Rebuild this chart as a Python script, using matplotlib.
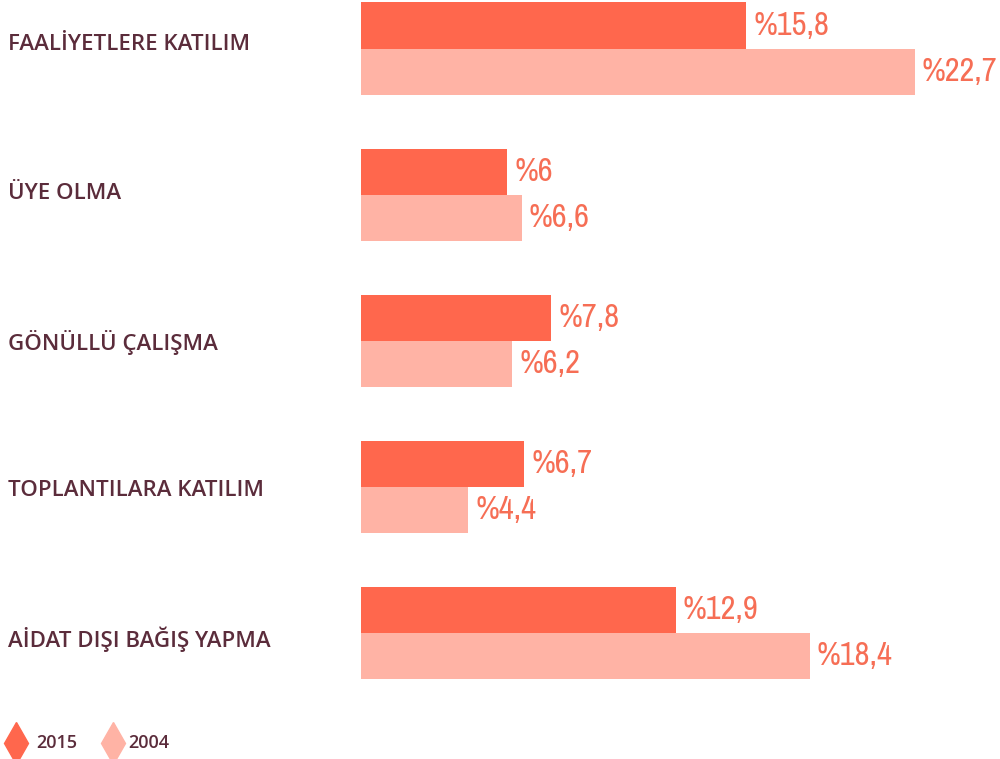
import numpy as np
import matplotlib.pyplot as plt
from matplotlib import font_manager

categories = ["FAALİYETLERE KATILIM", "ÜYE OLMA", "GÖNÜLLÜ ÇALIŞMA",
              "TOPLANTILARA KATILIM", "AİDAT DIŞI BAĞIŞ YAPMA"]
values_2015 = [15.8, 6.0, 7.8, 6.7, 12.9]
values_2004 = [22.7, 6.6, 6.2, 4.4, 18.4]
labels_2015 = ["%15,8", "%6", "%7,8", "%6,7", "%12,9"]
labels_2004 = ["%22,7", "%6,6", "%6,2", "%4,4", "%18,4"]
series = ["2015", "2004"]

c2015 = "#ff674d"
c2004 = "#ffb3a5"
text_red = "#f66e55"
dark = "#5b2c3b"

fm = font_manager.fontManager
installed = {f.name for f in fm.ttflist}
cond = [f for f in fm.ttflist if "ondensed" in f.name or "Narrow" in f.name
        or f.stretch in ("condensed", "semi-condensed", "extra-condensed", 75, 87)]
narrow = sorted({f.name for f in cond}) + ["DejaVu Sans"]
label_font = [f for f in ["Open Sans", "Noto Sans", "DejaVu Sans"] if f in installed]

fig = plt.figure(figsize=(10, 7.59), dpi=100)
ax = fig.add_axes([0.361, 0, 0.639, 1])

y = np.arange(len(categories))
h = 0.315
ax.barh(y - h / 2, values_2015, height=h, color=c2015)
ax.barh(y + h / 2, values_2004, height=h, color=c2004)
ax.set_xlim(0, 26.19)
ax.set_ylim(4.86, -0.332)
ax.axis("off")

pad = 0.28
for i in range(len(categories)):
    ax.text(values_2015[i] + pad, y[i] - h / 2, labels_2015[i], color=text_red,
            fontsize=23.5, family=narrow, fontstretch="condensed", fontweight="light",
            va="center", ha="left")
    ax.text(values_2004[i] + pad, y[i] + h / 2, labels_2004[i], color=text_red,
            fontsize=23.5, family=narrow, fontstretch="condensed", fontweight="light",
            va="center", ha="left")
    fig.text(0.008, 1 - (45 + 148.5 * i) / 759, categories[i], color=dark,
             fontsize=16, family=label_font, fontweight="semibold",
             va="center", ha="left")

# legend
ly = 1 - 743 / 759
for xm, xt, col, s in [(0.016, 0.036, c2015, series[0]), (0.113, 0.128, c2004, series[1])]:
    fig.add_artist(plt.Line2D([xm], [ly], marker="d", markersize=21,
                              color=col, linestyle="none", transform=fig.transFigure))
    fig.text(xt, ly, s, color=dark, fontsize=13, family=label_font,
             fontweight="semibold", va="center", ha="left")

fig.savefig("out.png", dpi=100)
